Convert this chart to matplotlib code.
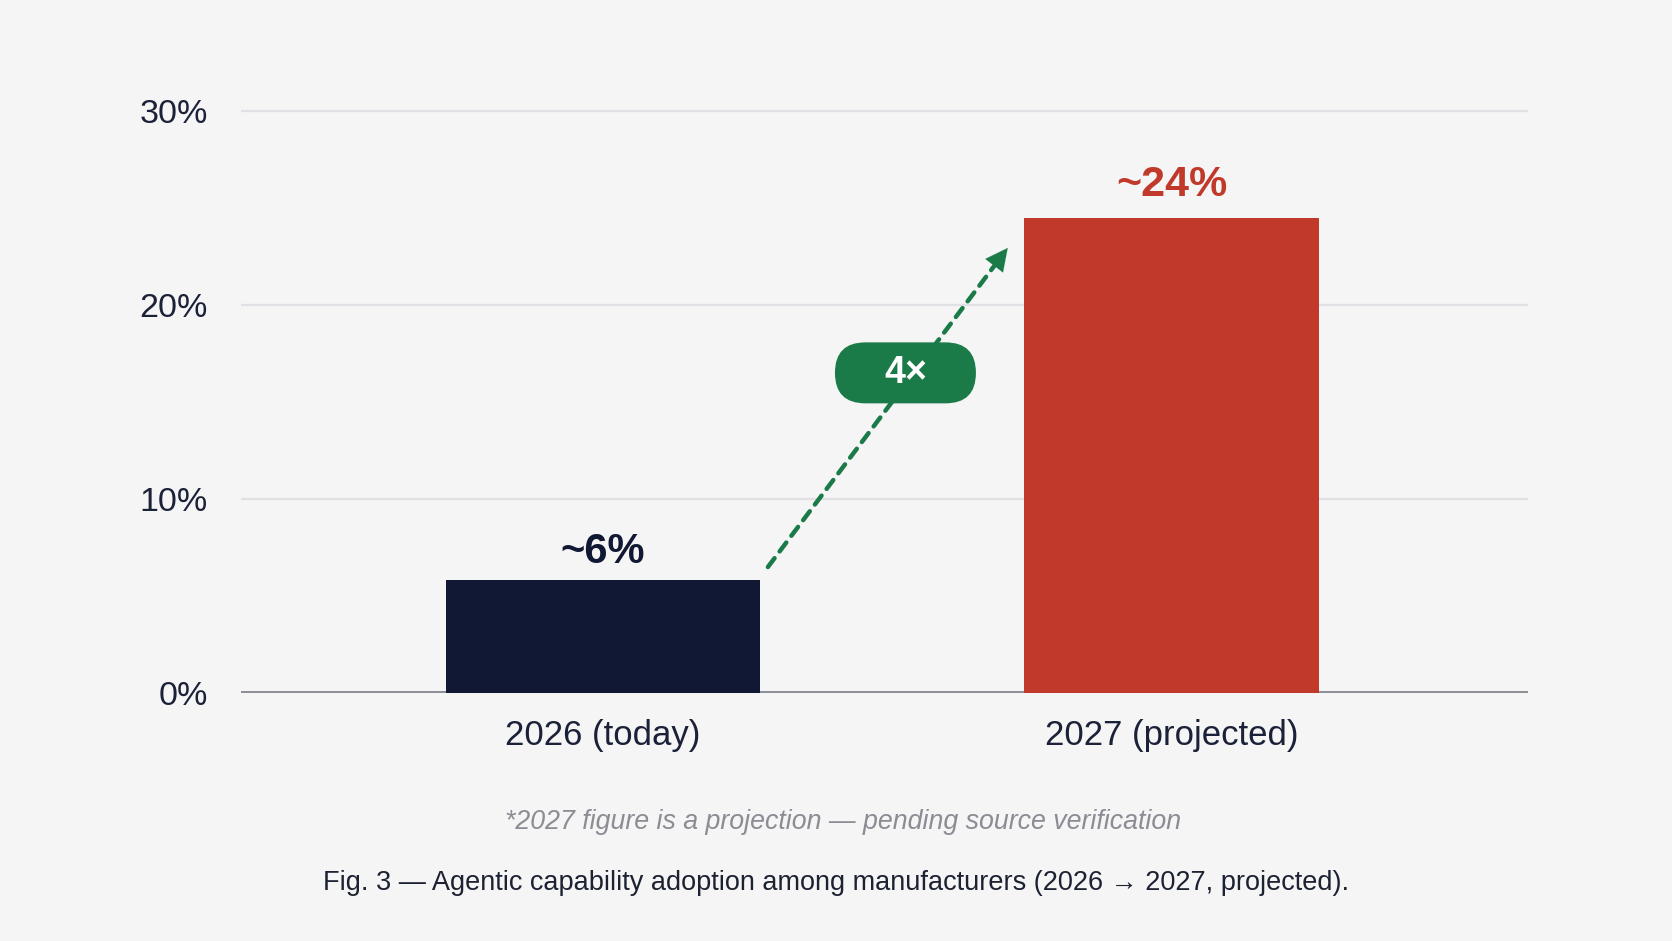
import numpy as np
import matplotlib
matplotlib.use('Agg')
import matplotlib.pyplot as plt
import matplotlib.transforms as mtransforms
from matplotlib.patches import FancyBboxPatch

plt.rcParams['font.family'] = ['Liberation Sans', 'DejaVu Sans']
#
# Datos
#
categories = ['2026 (today)', '2027 (projected)']
adoption = [5.8, 24.5]
value_labels = ['~6%', '~24%']
yticks = [0, 10, 20, 30]
ytick_labels = ['0%', '10%', '20%', '30%']
multiplier_label = '4\u00d7'
footnote = '*2027 figure is a projection \u2014 pending source verification'
caption = 'Fig. 3 \u2014 Agentic capability adoption among manufacturers (2026 \u2192 2027, projected).'
#
# Estilos
#
bg = '#f5f5f5'
navy = '#111833'
red = '#c0392b'
green = '#1b7b48'
text_dark = '#1b2138'
bar_colors = [navy, red]
label_colors = [navy, red]
label_sizes = [30, 31]
bar_widths = [0.552, 0.519]
label_y = [6.7, 25.6]

fig = plt.figure(figsize=(16.72, 9.41), dpi=100)
fig.patch.set_facecolor(bg)
ax = fig.add_axes([0.1441, 0.2636, 0.7697, 0.6597])
ax.set_facecolor(bg)

x = np.arange(len(categories))
ax.set_xlim(-0.637, 1.627)
ax.set_ylim(0, 32)
#
# Rejilla y eje
#
for t in yticks[1:]:
    ax.axhline(t, color='#e1e1e5', lw=1.6, zorder=1)
ax.axhline(0, color='#8e9098', lw=3.6, zorder=2)
#
# Barras
#
ax.bar(x, adoption, width=bar_widths, color=bar_colors, zorder=3)
for xi, lab, c, s, yl in zip(x, value_labels, label_colors, label_sizes, label_y):
    ax.text(xi, yl, lab, ha='center', va='baseline', fontsize=s,
            fontweight='bold', color=c, zorder=5)
#
# Flecha de crecimiento: linea discontinua + punta solida
#
p0 = (0.290, 6.49)
p1 = (0.712, 22.94)
ax.annotate('', xy=p1, xytext=p0,
            arrowprops=dict(arrowstyle='-', color=green, lw=3.2,
                            linestyle=(0, (2.5, 1.9)),
                            shrinkA=0, shrinkB=14),
            zorder=4)
ax.annotate('', xy=p1, xytext=(0.69, 22.1),
            arrowprops=dict(arrowstyle='-|>,head_length=1.6,head_width=0.8',
                            color=green, lw=0.1, shrinkA=0, shrinkB=0),
            zorder=4)
# etiqueta tipo pastilla
bx, by = 0.532, 16.5
trans = mtransforms.Affine2D() + mtransforms.ScaledTranslation(bx, by, ax.transData)
pill = FancyBboxPatch((-70.5, -30.5), 141, 61,
                      boxstyle='round,pad=0,rounding_size=30.5',
                      facecolor=green, edgecolor='none', transform=trans, zorder=6)
ax.add_patch(pill)
ax.text(bx, by, multiplier_label, ha='center', va='center', fontsize=27,
        fontweight='bold', color='white', zorder=7)
#
# Ejes
#
ax.set_yticks(yticks)
ax.set_yticklabels(ytick_labels)
ax.set_xticks(x)
ax.set_xticklabels(categories)
ax.tick_params(axis='y', length=0, pad=24, labelsize=24.5, labelcolor=text_dark)
ax.tick_params(axis='x', length=0, pad=19, labelsize=25, labelcolor=text_dark)
for sp in ax.spines.values():
    sp.set_visible(False)
#
# Notas
#
fig.text(0.504, 0.1265, footnote, ha='center', va='center', fontsize=19.3,
         style='italic', color='#8b8c94')
fig.text(0.500, 0.0616, caption, ha='center', va='center', fontsize=19.5,
         color='#1d2233')

fig.savefig('out.png', dpi=100, facecolor=bg)
